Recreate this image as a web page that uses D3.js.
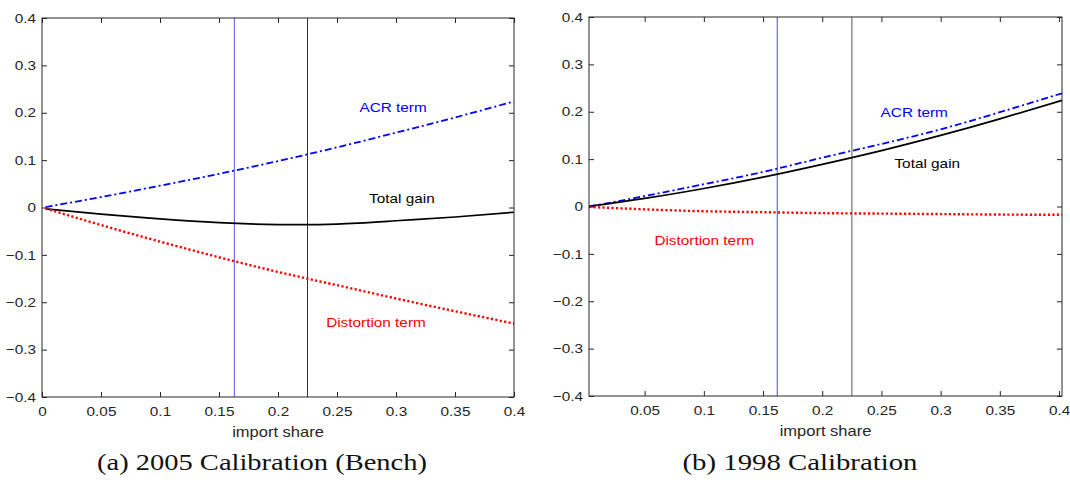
<!DOCTYPE html>
<html>
<head>
<meta charset="utf-8">
<script src="https://cdn.jsdelivr.net/npm/d3@7"></script>
<style>
  body { margin: 0; background: #fff; }
  svg text { font-family: "Liberation Sans", Arial, sans-serif; }
</style>
</head>
<body>
<svg width="1070" height="485"></svg>
<script>
var svg = d3.select("svg");

//==================================================
// data

// (a) 2005 calibration
var share_a = [0.003, 0.05, 0.1, 0.15, 0.2, 0.25, 0.3, 0.35, 0.4];
var acr_a   = [0.001, 0.022, 0.046, 0.071, 0.098, 0.127, 0.158, 0.190, 0.224];
var dist_a  = [-0.002, -0.037, -0.072, -0.105, -0.136, -0.164, -0.192, -0.219, -0.245];
var total_a = [-0.003, -0.014, -0.024, -0.032, -0.036, -0.035, -0.028, -0.020, -0.010];
var vlines_a = [0.163, 0.225];

// (b) 1998 calibration
var share_b = [0.003, 0.05, 0.1, 0.15, 0.2, 0.25, 0.3, 0.35, 0.4025];
var acr_b   = [0.000, 0.022, 0.047, 0.073, 0.103, 0.132, 0.163, 0.199, 0.239];
var dist_b  = [-0.001, -0.006, -0.010, -0.012, -0.014, -0.015, -0.016, -0.017, -0.0175];
var total_b = [0.000, 0.017, 0.038, 0.062, 0.089, 0.118, 0.150, 0.185, 0.224];
var vlines_b = [0.162, 0.225];

var yticks = [-0.4, -0.3, -0.2, -0.1, 0, 0.1, 0.2, 0.3, 0.4];
var xticks_a = [0, 0.05, 0.1, 0.15, 0.2, 0.25, 0.3, 0.35, 0.4];
var xticks_b = [0.05, 0.1, 0.15, 0.2, 0.25, 0.3, 0.35, 0.4];

var captions = ["(a)  2005 Calibration (Bench)", "(b)  1998 Calibration"];

//==================================================
// one panel
// the source figure was stretched sideways, so text gets a horizontal scale

var stretch = "scale(1.18,1)";

var panel = function(opt) {
    var x = d3.scaleLinear().domain(opt.xdom).range([opt.left, opt.right]);
    var y = d3.scaleLinear().domain([-0.4, 0.4]).range([opt.bottom, opt.top]);
    var g = svg.append("g");
    var axcol = "#262626";

    // vertical reference lines
    g.selectAll("line.vl")
        .data(opt.vlines)
        .enter().append("line")
        .attr("x1", function(d) { return x(d); })
        .attr("x2", function(d) { return x(d); })
        .attr("y1", y(0.4)).attr("y2", y(-0.4))
        .attr("stroke", function(d, i) { return opt.vcolors[i]; })
        .attr("stroke-width", function(d, i) { return opt.vwidths[i]; });

    // curves
    var series = [
        {v: opt.acr, color: "#0000ff", dash: "7,3,2,3", w: 1.8},
        {v: opt.total, color: "#000000", dash: null, w: 1.7},
        {v: opt.dist, color: "#ff0000", dash: "2.2,2.3", w: 2.4}
    ];
    var line = d3.line()
        .x(function(d) { return x(d[0]); })
        .y(function(d) { return y(d[1]); })
        .curve(d3.curveNatural);
    series.forEach(function(s) {
        g.append("path")
            .attr("d", line(d3.zip(opt.xs, s.v)))
            .attr("fill", "none")
            .attr("stroke", s.color)
            .attr("stroke-width", s.w)
            .attr("stroke-dasharray", s.dash);
    });

    // axes, MATLAB style box with inward ticks
    var ax = function(sel) {
        sel.select(".domain").remove();
        sel.selectAll("text").attr("fill", axcol).style("font-size", "13px").attr("transform", stretch);
        sel.selectAll(".tick line").attr("stroke", axcol);
    };
    g.append("g").attr("transform", "translate(0," + opt.bottom + ")")
        .call(d3.axisBottom(x).tickValues(opt.xticks).tickSize(-5).tickPadding(10).tickFormat(d3.format("~g")))
        .call(ax).attr("font-family", null);
    g.append("g").attr("transform", "translate(0," + opt.top + ")")
        .call(d3.axisTop(x).tickValues(opt.xticks).tickSize(-5).tickFormat(""))
        .call(ax);
    g.append("g").attr("transform", "translate(" + opt.left + ",0)")
        .call(d3.axisLeft(y).tickValues(yticks).tickSize(-5).tickPadding(5).tickFormat(d3.format("~g")))
        .call(ax).attr("font-family", null);
    g.append("g").attr("transform", "translate(" + opt.right + ",0)")
        .call(d3.axisRight(y).tickValues(yticks).tickSize(-5).tickFormat(""))
        .call(ax);
    g.append("rect")
        .attr("x", opt.left).attr("y", opt.top)
        .attr("width", opt.right - opt.left).attr("height", opt.bottom - opt.top)
        .attr("fill", "none").attr("stroke", axcol).attr("stroke-width", 1);

    // axis title
    g.append("g").attr("transform", "translate(" + (opt.left + opt.right) / 2 + "," + (opt.bottom + 35) + ")")
      .append("text")
        .attr("transform", stretch)
        .attr("text-anchor", "middle").attr("dominant-baseline", "central")
        .attr("fill", axcol).style("font-size", "14px")
        .text("import share");

    // curve labels
    opt.labels.forEach(function(l) {
        g.append("g").attr("transform", "translate(" + x(l.at[0]) + "," + y(l.at[1]) + ")")
          .append("text")
            .attr("transform", stretch)
            .attr("text-anchor", "middle").attr("dominant-baseline", "central")
            .attr("fill", l.color).style("font-size", "13px")
            .text(l.text);
    });

    // caption
    g.append("text")
        .attr("x", opt.capx - opt.capw / 2).attr("y", 462)
        .attr("dominant-baseline", "central")
        .attr("textLength", opt.capw).attr("lengthAdjust", "spacingAndGlyphs")
        .style("font-family", "'Liberation Serif', 'DejaVu Serif', serif")
        .style("font-size", "24px").attr("fill", "#111")
        .text(opt.caption);
};

panel({
    left: 42, right: 514, top: 18, bottom: 397,
    xdom: [0, 0.4], xs: share_a, acr: acr_a, dist: dist_a, total: total_a,
    xticks: xticks_a, vlines: vlines_a,
    vcolors: ["#5555ee", "#333333"], vwidths: [1, 1],
    labels: [
        {text: "ACR term", at: [0.2975, 0.212], color: "#0000ff"},
        {text: "Total gain", at: [0.305, 0.020], color: "#000"},
        {text: "Distortion term", at: [0.283, -0.242], color: "#ff0000"}
    ],
    caption: captions[0], capx: 262, capw: 330
});

panel({
    left: 589, right: 1062, top: 17, bottom: 396,
    xdom: [0.003, 0.4025], xs: share_b, acr: acr_b, dist: dist_b, total: total_b,
    xticks: xticks_b, vlines: vlines_b,
    vcolors: ["#4444ff", "#888888"], vwidths: [1, 1.4],
    labels: [
        {text: "ACR term", at: [0.2777, 0.198], color: "#0000ff"},
        {text: "Total gain", at: [0.2887, 0.090], color: "#000"},
        {text: "Distortion term", at: [0.1003, -0.0725], color: "#ff0000"}
    ],
    caption: captions[1], capx: 800, capw: 235
});
</script>
</body>
</html>
